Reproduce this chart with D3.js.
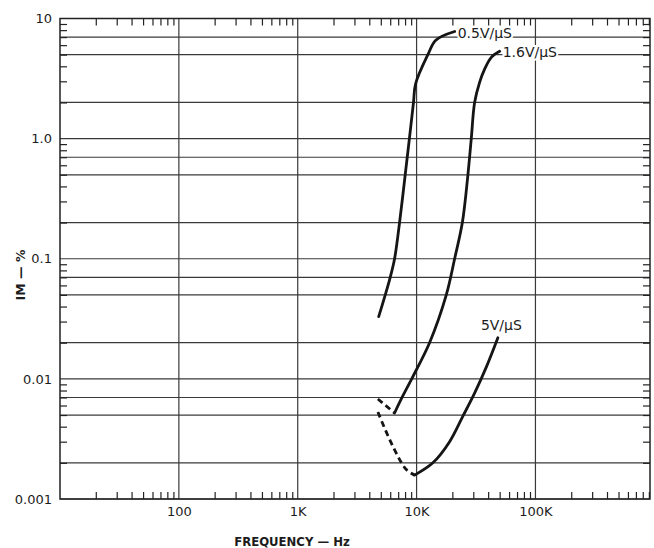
<!DOCTYPE html>
<html>
<head>
<meta charset="utf-8">
<script src="https://cdn.jsdelivr.net/npm/d3@7"></script>
<style>
body{margin:0;background:#fff;}
#canvas{width:654px;height:548px;}
text{font-family:"DejaVu Sans",sans-serif;fill:#1c1c1c;}
</style>
</head>
<body>
<div id="canvas"></div>
<script>
// data: [frequency Hz, IM %]
var curve05 = [[4800,0.033],[5450,0.05],[6000,0.07],[6530,0.1],[7190,0.2],[8020,0.5],[8700,1.0],[9420,2.0],[9800,2.85],[12450,5.0],[14500,6.6],[20900,7.8]];
var curve16Dash = [[4725,0.0068],[6530,0.0052]];
var curve16 = [[6530,0.0052],[7600,0.0071],[9100,0.01],[12860,0.02],[17780,0.05],[20900,0.1],[24270,0.2],[27030,0.5],[28850,1.0],[30780,2.0],[33900,2.94],[37350,3.79],[42540,4.75],[50000,5.33]];
var curve5Dash = [[4725,0.0053],[6310,0.00275],[8190,0.00176],[9620,0.00158]];
var curve5 = [[9620,0.00158],[13710,0.002],[18960,0.0030],[24540,0.0049],[30770,0.0076],[38820,0.0127],[48300,0.022]];
var curveLabels = ['0.5V/\u03bcS','1.6V/\u03bcS','5V/\u03bcS'];

var xTicks = [100,1000,10000,100000];
var xTickLabels = ['100','1K','10K','100K'];
var yTicks = [0.001,0.01,0.1,1,10];
var yTickLabels = ['0.001','0.01','0.1','1.0','10'];
var yGridSteps = [2,5,7];

var margin = {t:18.5,r:4,b:49,l:60};
var width = 654 - margin.l - margin.r,
    height = 548 - margin.t - margin.b;

var svg = d3.select('#canvas').append('svg')
    .attr('width',654).attr('height',548);
var plot = svg.append('g')
    .attr('transform','translate('+margin.l+','+margin.t+')');

var x = d3.scaleLog().domain([10,920000]).range([0,width]);
var y = d3.scaleLog().domain([0.001,10]).range([height,0]);

// minor tick values
var xMinor = [], yMinor = [], yGrid = [];
[10,100,1000,10000,100000].forEach(function(d){
    for(var k=2;k<=9;k++){ if(d*k <= x.domain()[1]) xMinor.push(d*k); }
});
[0.001,0.01,0.1,1].forEach(function(d){
    for(var k=2;k<=9;k++){
        yMinor.push(d*k);
        if(yGridSteps.indexOf(k) >= 0) yGrid.push(d*k);
    }
});

var ink = '#222';

// grid lines
plot.selectAll('.hgrid').data(yGrid.concat(yTicks)).enter().append('line')
    .attr('x1',0).attr('x2',width)
    .attr('y1',function(d){return y(d);}).attr('y2',function(d){return y(d);})
    .style('stroke','#3a3a3a').style('stroke-width','1.2px');
plot.selectAll('.vgrid').data(xTicks).enter().append('line')
    .attr('x1',function(d){return x(d);}).attr('x2',function(d){return x(d);})
    .attr('y1',0).attr('y2',height)
    .style('stroke','#3a3a3a').style('stroke-width','1.2px');

// minor ticks on all four sides (pointing inward)
function minorAxis(axis, vals, tx){
    var g = plot.append('g').attr('transform',tx)
        .call(axis.tickValues(vals).tickSizeInner(-7).tickSizeOuter(0).tickFormat(''));
    g.select('.domain').remove();
    g.selectAll('line').style('stroke',ink).style('stroke-width','1.2px');
}
minorAxis(d3.axisBottom(x), xMinor, 'translate(0,'+height+')');
minorAxis(d3.axisTop(x), xMinor, 'translate(0,0)');
minorAxis(d3.axisLeft(y), yMinor, 'translate(0,0)');
minorAxis(d3.axisRight(y), yMinor, 'translate('+width+',0)');

// border
plot.append('rect').attr('width',width).attr('height',height)
    .style('fill','none').style('stroke',ink).style('stroke-width','1.5px');

// tick labels
var xl = plot.append('g').attr('transform','translate(0,'+height+')')
    .call(d3.axisBottom(x).tickValues(xTicks).tickSize(0).tickPadding(8)
        .tickFormat(function(d,i){return xTickLabels[i];}));
xl.select('.domain').remove();
xl.selectAll('text').style('font-size','13px').style('font-family','"DejaVu Sans",sans-serif').attr('fill','#1c1c1c');

var yl = plot.append('g')
    .call(d3.axisLeft(y).tickValues(yTicks).tickSize(0).tickPadding(8)
        .tickFormat(function(d,i){return yTickLabels[i];}));
yl.select('.domain').remove();
yl.selectAll('text').style('font-size','13px').style('font-family','"DejaVu Sans",sans-serif').attr('fill','#1c1c1c');

// axis titles
svg.append('text').attr('x',292).attr('y',546)
    .attr('text-anchor','middle').style('font-size','11.7px').style('font-weight','bold')
    .text('FREQUENCY \u2014 Hz');
svg.append('text').attr('transform','translate(25,275) rotate(-90)')
    .attr('text-anchor','middle').style('font-size','12.5px').style('font-weight','bold')
    .text('IM \u2014 %');

// curves
var line = d3.line()
    .x(function(d){return x(d[0]);})
    .y(function(d){return y(d[1]);})
    .curve(d3.curveCatmullRom.alpha(0.5));

function drawCurve(data, dashed){
    plot.append('path').attr('d',line(data))
        .style('fill','none').style('stroke','#151515')
        .style('stroke-width','2.8px')
        .style('stroke-linecap', dashed ? 'butt' : 'round')
        .style('stroke-dasharray', dashed ? '6,4' : null);
}
drawCurve(curve05,false);
drawCurve(curve16Dash,true);
drawCurve(curve16,false);
drawCurve(curve5Dash,true);
drawCurve(curve5,false);

// curve labels (white halo hides the grid line behind them)
var labelAt = [
    {p:curve05[curve05.length-1], dx:3, dy:2},
    {p:curve16[curve16.length-1], dx:3, dy:1},
    {p:curve5[curve5.length-1], dx:-17, dy:-13}
];
labelAt.forEach(function(l,i){
    plot.append('text')
        .attr('x',x(l.p[0])+l.dx).attr('y',y(l.p[1])+l.dy)
        .attr('dy','0.35em')
        .style('font-size','14px')
        .style('stroke','#fff').style('stroke-width','4px').style('paint-order','stroke')
        .text(curveLabels[i]);
});
</script>
</body>
</html>
